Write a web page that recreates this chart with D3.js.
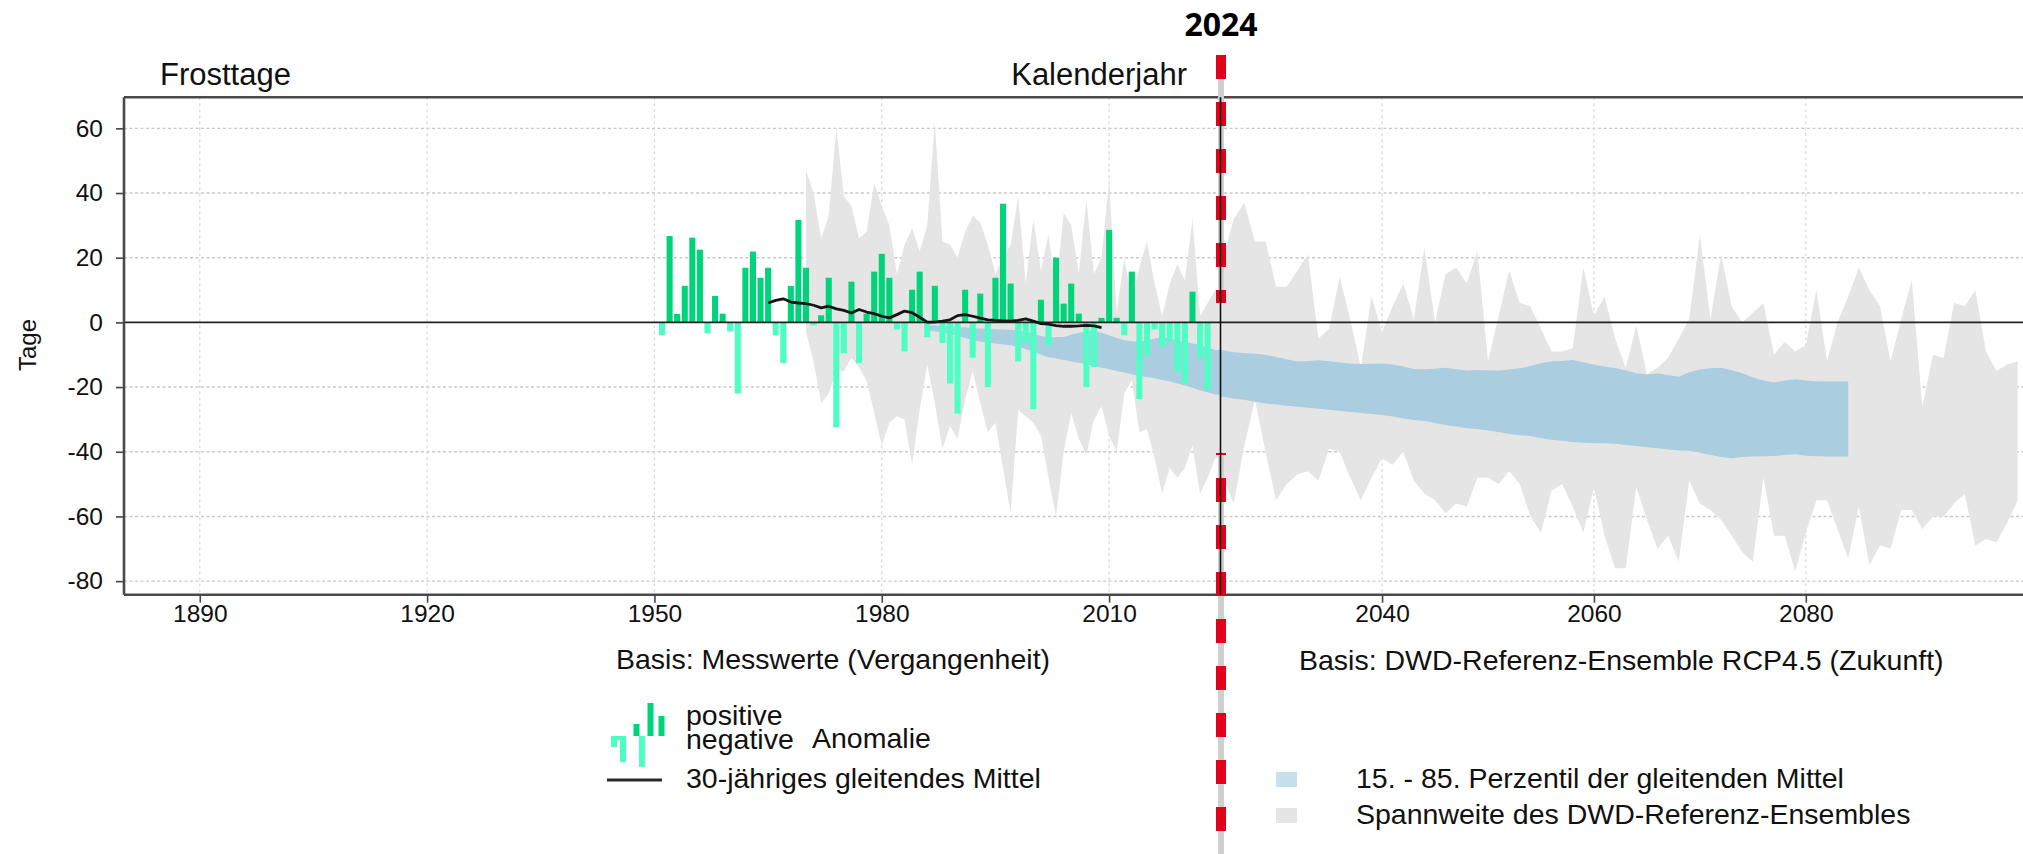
<!DOCTYPE html>
<html>
<head>
<meta charset="utf-8">
<script src="https://cdn.jsdelivr.net/npm/d3@7"></script>
<style>
  body { margin: 0; background: #fff; }
  svg { display: block; background: #fff; }
  text { font-family: "Liberation Sans", Arial, Helvetica, sans-serif; fill: #111; }
</style>
</head>
<body>
<div id="chart"></div>
<script>
// Beobachtete Anomalie der Frosttage (Tage), 1951-2023
const anomalyYears = d3.range(1951, 2024);
const anomalies = [
  -4.0, 26.7, 2.6, 11.3, 26.2, 22.5, -3.4, 8.2, 2.7, -2.8,
  -22.0, 16.9, 21.9, 13.8, 16.9, -4.0, -12.6, 11.3, 31.7, 16.9,
  -0.9, 2.2, 13.8, -32.4, -9.5, 12.6, -12.6, 2.7, 15.7, 21.2,
  13.8, -2.2, -9.0, 10.1, 15.7, -4.6, 11.3, -6.4, -18.9, -28.2,
  10.1, -10.9, 8.9, -20.0, 13.8, 36.7, 12.0, -12.1, -6.4, -26.8,
  7.0, -7.1, 20.0, 5.8, 12.0, 2.7, -20.0, -13.8, 1.4, 28.6,
  1.4, -4.0, 15.7, -23.7, -10.2, -2.2, -7.6, -5.9, -15.1, -18.9,
  9.5, -10.9, -20.8
];

// 30-jaehriges gleitendes Mittel, 1965-2009
const meanYears = d3.range(1965, 2010);
const meanValues = [
  6.0, 6.8, 7.3, 6.3, 6.0, 5.8, 5.3, 4.5, 5.0, 4.2,
  3.7, 2.9, 4.0, 3.2, 2.7, 1.9, 1.4, 2.4, 3.5, 3.0,
  1.6, 0.1, 0.1, 0.4, 0.8, 2.1, 2.4, 1.9, 1.3, 0.8,
  0.6, 0.5, 0.4, 0.6, 1.1, 0.4, -0.4, -0.5, -1.0, -1.2,
  -1.2, -1.1, -0.9, -1.1, -1.6
];

// Spannweite des Ensembles (Vergangenheit), 1970-2024
const pastRangeYears = d3.range(1970, 2025);
const pastRangeMax = [
  47, 40, 26, 33, 60, 39, 36, 26, 28, 43,
  36, 30, 15, 24, 29, 22, 30, 62, 25, 24,
  20, 28, 33, 31, 24, 15, 20, 24, 39, 12,
  32, 16, 27, 10, 34, 30, 15, 38, 15, 20,
  44, 3, 20, 7, 17, 25, 12, 2, 12, 18,
  13, 32, 2, 6, 10
];
const pastRangeMin = [
  -3, -12, -25, -22, -15, -15, -11, -14, -18, -28,
  -38, -31, -29, -30, -44, -27, -13, -25, -39, -32,
  -36, -24, -15, -25, -34, -31, -45, -59, -27, -29,
  -31, -35, -48, -60, -40, -28, -36, -41, -30, -26,
  -35, -40, -22, -18, -34, -33, -42, -53, -45, -48,
  -45, -38, -53, -48, -42
];

// 15.-85. Perzentil (Vergangenheit), 1986-2024
const pastPctYears = d3.range(1986, 2025);
const pastPctHigh = [
  -0.8, -0.9, -1.0, -1.2, -1.4, -1.5, -1.8, -1.9, -2.0, -2.1,
  -2.2, -2.3, -2.5, -3.0, -3.5, -4.2, -4.5, -4.6, -4.5, -3.8,
  -3.2, -2.8, -2.6, -3.2, -4.0, -4.8, -5.5, -5.8, -6.0, -5.6,
  -5.0, -4.6, -5.0, -5.5, -6.0, -6.5, -7.0, -7.8, -8.5
];
const pastPctLow = [
  -2.5, -2.8, -3.0, -3.6, -4.2, -4.8, -5.5, -5.9, -6.2, -6.5,
  -6.8, -7.1, -7.5, -8.2, -9.0, -10.0, -10.8, -11.2, -11.6, -12.0,
  -12.5, -13.0, -13.5, -14.0, -14.5, -15.0, -15.5, -16.0, -16.5, -16.9,
  -17.3, -17.8, -18.3, -18.9, -19.5, -20.2, -21.0, -21.6, -22.3
];

// Spannweite des DWD-Referenz-Ensembles RCP4.5, 2025-2100
const futureRangeYears = d3.range(2025, 2101);
const futureRangeMax = [
  20, 32, 37, 25, 25, 11, 11, 16, 21, -5,
  -2, 14, 1, -14, 8, -3, 5, 12, 1, 23,
  0, 15, 17, 12, 22, -12, 2, 16, 6, 5,
  -2, -9, -9, -8, 17, 2, 8, -5, -14, -1,
  -16, -14, -11, -5, 1, 27, 1, 21, 5, 0,
  3, 6, -10, -6, -9, -7, 10, -12, 0, 8,
  17, 10, 5, -12, 1, 13, -26, -10, -11, 6,
  5, 10, -9, -15, -13, -12
];
const futureRangeMin = [
  -48, -56, -38, -24, -40, -55, -50, -47, -46, -49,
  -39, -40, -48, -55, -48, -42, -44, -40, -49, -53,
  -55, -59, -56, -57, -48, -48, -50, -46, -50, -60,
  -65, -52, -50, -57, -65, -51, -66, -76, -76, -51,
  -61, -70, -66, -74, -49, -56, -58, -61, -66, -71,
  -74, -48, -66, -66, -77, -65, -55, -55, -64, -73,
  -57, -75, -69, -70, -58, -58, -64, -60, -60, -56,
  -53, -69, -67, -68, -62, -55
];

// 15.-85. Perzentil der gleitenden Mittel, 2025-2084
const futurePctYears = d3.range(2025, 2085);
const futurePctHigh = [
  -8.6, -9.2, -9.5, -9.7, -10.0, -10.7, -11.4, -12.1, -11.9, -11.7,
  -12.0, -12.4, -12.7, -12.9, -12.8, -12.7, -13.0, -13.6, -14.4, -14.5,
  -14.3, -14.0, -14.5, -14.9, -14.7, -14.8, -14.9, -14.6, -14.2, -13.5,
  -12.6, -12.0, -11.9, -11.6, -12.3, -13.0, -13.6, -14.1, -14.9, -15.7,
  -16.1, -15.8, -16.3, -16.8, -15.4, -14.6, -14.2, -14.0, -14.7, -15.7,
  -17.0, -18.0, -18.6, -18.0, -17.6, -18.0, -18.2, -18.3, -18.3, -18.3
];
const futurePctLow = [
  -23.0, -23.6, -23.9, -24.5, -25.1, -25.4, -25.8, -26.1, -26.4, -26.7,
  -27.0, -27.4, -27.7, -28.0, -28.3, -28.6, -29.1, -29.7, -30.2, -30.5,
  -31.1, -31.7, -32.2, -32.7, -33.0, -33.4, -33.9, -34.5, -34.9, -35.1,
  -35.8, -36.3, -36.6, -37.0, -37.2, -37.4, -37.4, -37.5, -37.9, -38.2,
  -38.6, -38.9, -39.3, -39.6, -39.7, -40.3, -41.0, -41.6, -42.0, -41.6,
  -41.5, -41.4, -41.3, -41.0, -40.8, -41.2, -41.4, -41.5, -41.5, -41.5
];

const pastTicks = [1890, 1920, 1950, 1980, 2010];
const futureTicks = [2040, 2060, 2080];
const yTicks = [-80, -60, -40, -20, 0, 20, 40, 60];

class FrostChart {
  constructor() {
    this.config = {
      parentElement: "#chart",
      width: 2023,
      height: 854,
      left: 124,
      split: 1220.5,
      right: 2023,
      top: 97.3,
      bottom: 594.7,
      colors: {
        pos: "#00d47a",
        neg: "#4dffc4",
        range: "#e5e5e5",
        pct: "#abcde0",
        red: "#e3001b",
      },
    };
    this.initVis();
  }

  initVis() {
    const vis = this;
    const c = vis.config;

    vis.svg = d3
      .select(c.parentElement)
      .append("svg")
      .attr("width", c.width)
      .attr("height", c.height);

    // two time axes glued together at 2024
    vis.xPast = d3.scaleLinear().domain([1880, 2024.7]).range([c.left, c.split]);
    vis.xFuture = d3.scaleLinear().domain([2024.75, 2100.5]).range([c.split, c.right]);
    vis.yScale = d3.scaleLinear().domain([-84.2, 69.6]).range([c.bottom, c.top]);

    vis.drawGrid();
    vis.drawBands();
    vis.drawBars();
    vis.drawFrame();
    vis.drawMarker();
    vis.drawTexts();
    vis.drawLegend();
  }

  drawGrid() {
    const vis = this;
    const c = vis.config;
    const g = vis.svg.append("g");

    g.selectAll(".hgrid")
      .data(yTicks.filter((d) => d !== 0))
      .join("line")
      .attr("x1", c.left)
      .attr("x2", c.right)
      .attr("y1", (d) => vis.yScale(d))
      .attr("y2", (d) => vis.yScale(d))
      .attr("stroke", "#c9c9c9")
      .attr("stroke-width", 1.4)
      .attr("stroke-dasharray", "3,2.5");

    const vx = pastTicks.map((d) => vis.xPast(d)).concat(futureTicks.map((d) => vis.xFuture(d)));
    g.selectAll(".vgrid")
      .data(vx)
      .join("line")
      .attr("x1", (d) => d)
      .attr("x2", (d) => d)
      .attr("y1", c.top)
      .attr("y2", c.bottom)
      .attr("stroke", "#d8d8d8")
      .attr("stroke-width", 1.2)
      .attr("stroke-dasharray", "3,3");
  }

  drawBands() {
    const vis = this;
    const c = vis.config;
    const y = vis.yScale;

    const pastArea = d3.area().x((d) => vis.xPast(d.year)).y0((d) => y(d.lo)).y1((d) => y(d.hi));
    const futArea = d3.area().x((d) => vis.xFuture(d.year)).y0((d) => y(d.lo)).y1((d) => y(d.hi));

    const zipData = (years, hi, lo) => years.map((yr, i) => ({ year: yr, hi: hi[i], lo: lo[i] }));

    // past series run up to the divider, future ones start at it
    const pastRange = zipData(pastRangeYears, pastRangeMax, pastRangeMin);
    pastRange.push({ ...pastRange[pastRange.length - 1], year: vis.xPast.domain()[1] });
    const pastPct = zipData(pastPctYears, pastPctHigh, pastPctLow);
    pastPct.push({ ...pastPct[pastPct.length - 1], year: vis.xPast.domain()[1] });
    const futRange = zipData(futureRangeYears, futureRangeMax, futureRangeMin);
    futRange.unshift({ ...futRange[0], year: vis.xFuture.domain()[0] });
    const futPct = zipData(futurePctYears, futurePctHigh, futurePctLow);
    futPct.unshift({ ...futPct[0], year: vis.xFuture.domain()[0] });

    vis.svg.append("path").attr("d", pastArea(pastRange)).attr("fill", c.colors.range);
    vis.svg.append("path").attr("d", futArea(futRange)).attr("fill", c.colors.range);
    vis.svg.append("path").attr("d", pastArea(pastPct)).attr("fill", c.colors.pct);
    vis.svg.append("path").attr("d", futArea(futPct)).attr("fill", c.colors.pct);
  }

  drawBars() {
    const vis = this;
    const c = vis.config;
    const y = vis.yScale;
    const data = anomalyYears.map((yr, i) => ({ year: yr, value: anomalies[i] }));

    vis.svg
      .append("g")
      .selectAll("rect")
      .data(data)
      .join("rect")
      .attr("x", (d) => vis.xPast(d.year - 0.4))
      .attr("width", (d) => vis.xPast(d.year + 0.4) - vis.xPast(d.year - 0.4))
      .attr("y", (d) => y(Math.max(0, d.value)))
      .attr("height", (d) => Math.abs(y(d.value) - y(0)))
      .attr("fill", (d) => (d.value >= 0 ? c.colors.pos : c.colors.neg));

    // zero line over the whole width
    vis.svg
      .append("line")
      .attr("x1", c.left)
      .attr("x2", c.right)
      .attr("y1", y(0))
      .attr("y2", y(0))
      .attr("stroke", "#222")
      .attr("stroke-width", 1.6);

    const line = d3
      .line()
      .x((d) => vis.xPast(d.year))
      .y((d) => y(d.value));

    vis.svg
      .append("path")
      .attr("d", line(meanYears.map((yr, i) => ({ year: yr, value: meanValues[i] }))))
      .attr("fill", "none")
      .attr("stroke", "#151515")
      .attr("stroke-width", 2.8)
      .attr("stroke-linejoin", "round");
  }

  drawFrame() {
    const vis = this;
    const c = vis.config;

    const frame = vis.svg.append("g").attr("stroke", "#4a4a4a").attr("stroke-width", 2.6);
    frame.append("line").attr("x1", c.left).attr("x2", c.right).attr("y1", c.top).attr("y2", c.top);
    frame.append("line").attr("x1", c.left).attr("x2", c.right).attr("y1", c.bottom).attr("y2", c.bottom);
    frame.append("line").attr("x1", c.left).attr("x2", c.left).attr("y1", c.top).attr("y2", c.bottom);

    const plain = (d) => String(d);
    const yAxis = d3.axisLeft(vis.yScale).tickValues(yTicks).tickFormat(plain).tickSize(8).tickPadding(13);
    const xAxisPast = d3.axisBottom(vis.xPast).tickValues(pastTicks).tickFormat(plain).tickSize(8).tickPadding(2);
    const xAxisFut = d3.axisBottom(vis.xFuture).tickValues(futureTicks).tickFormat(plain).tickSize(8).tickPadding(2);

    const styleAxis = (g) => {
      g.select(".domain").remove();
      g.selectAll(".tick line").attr("stroke", "#444").attr("stroke-width", 1.6);
      g.selectAll(".tick text")
        .attr("fill", "#111")
        .style("font-family", '"Liberation Sans", Arial, sans-serif')
        .style("font-size", "24.5px");
    };

    vis.svg.append("g").attr("transform", `translate(${c.left},0)`).call(yAxis).call(styleAxis);
    vis.svg.append("g").attr("transform", `translate(0,${c.bottom})`).call(xAxisPast).call(styleAxis);
    vis.svg.append("g").attr("transform", `translate(0,${c.bottom})`).call(xAxisFut).call(styleAxis);
  }

  drawMarker() {
    const vis = this;
    const c = vis.config;
    const x = c.split + 0.5;
    // the red dashed marker is hidden in one stretch, as in the original
    const segments = [
      { y1: 55, y2: 303 },
      { y1: 453, y2: c.height },
    ];
    const period = 47;

    segments.forEach((s) => {
      vis.svg
        .append("line")
        .attr("x1", x).attr("x2", x)
        .attr("y1", s.y1).attr("y2", s.y2)
        .attr("stroke", "#cfcfcf")
        .attr("stroke-width", 6);
      vis.svg
        .append("line")
        .attr("x1", x).attr("x2", x)
        .attr("y1", s.y1).attr("y2", s.y2)
        .attr("stroke", c.colors.red)
        .attr("stroke-width", 10)
        .attr("stroke-dasharray", "24,23")
        .attr("stroke-dashoffset", (s.y1 - 55) % period);
    });

    // divider between measurements and projection, drawn over the marker
    vis.svg
      .append("line")
      .attr("x1", c.split)
      .attr("x2", c.split)
      .attr("y1", c.top)
      .attr("y2", c.bottom)
      .attr("stroke", "#111")
      .attr("stroke-width", 1.6);

    vis.svg
      .append("text")
      .attr("x", x)
      .attr("y", 36)
      .attr("text-anchor", "middle")
      .style("font-family", '"Open Sans", sans-serif')
      .style("font-weight", 700)
      .style("font-size", "32px")
      .style("fill", "#000")
      .text("2024");
  }

  drawTexts() {
    const vis = this;
    const addText = (x, y, str, size, anchor = "start") =>
      vis.svg
        .append("text")
        .attr("x", x)
        .attr("y", y)
        .attr("text-anchor", anchor)
        .style("font-size", `${size}px`)
        .text(str);

    addText(160, 85, "Frosttage", 31);
    addText(1187, 85, "Kalenderjahr", 31, "end");
    addText(616, 669, "Basis: Messwerte (Vergangenheit)", 28.5);
    addText(1299, 670, "Basis: DWD-Referenz-Ensemble RCP4.5 (Zukunft)", 28.5);

    vis.svg
      .append("text")
      .attr("transform", "translate(36,345) rotate(-90)")
      .attr("text-anchor", "middle")
      .style("font-size", "24px")
      .text("Tage");

    vis.addText = addText;
  }

  drawLegend() {
    const vis = this;
    const c = vis.config;
    const g = vis.svg.append("g");

    // small bar icon
    const icon = [
      { x: 611, y: 736, h: 11, col: c.colors.neg },
      { x: 620, y: 736, h: 26, col: c.colors.neg },
      { x: 617, y: 736, h: 4, col: c.colors.neg },
      { x: 633.5, y: 724, h: 12, col: c.colors.pos },
      { x: 639, y: 736, h: 31, col: c.colors.neg },
      { x: 647.5, y: 703, h: 33, col: c.colors.pos },
      { x: 658.5, y: 716, h: 20, col: c.colors.pos },
    ];
    g.selectAll("rect.icon")
      .data(icon)
      .join("rect")
      .attr("x", (d) => d.x)
      .attr("y", (d) => d.y)
      .attr("width", 6)
      .attr("height", (d) => d.h)
      .attr("fill", (d) => d.col);

    g.append("line")
      .attr("x1", 607).attr("x2", 662)
      .attr("y1", 780).attr("y2", 780)
      .attr("stroke", "#2a2a2a")
      .attr("stroke-width", 3);

    vis.addText(686, 725, "positive", 28.5);
    vis.addText(686, 749, "negative", 28.5);
    vis.addText(812, 748, "Anomalie", 28.5);
    vis.addText(686, 788, "30-jähriges gleitendes Mittel", 28.5);

    g.append("rect").attr("x", 1276).attr("y", 772).attr("width", 21).attr("height", 15).attr("fill", "#c6e0ee");
    g.append("rect").attr("x", 1276).attr("y", 808).attr("width", 21).attr("height", 15).attr("fill", c.colors.range);

    vis.addText(1356, 788, "15. - 85. Perzentil der gleitenden Mittel", 28.5);
    vis.addText(1356, 824, "Spannweite des DWD-Referenz-Ensembles", 28.5);
  }
}

const frostChart = new FrostChart();
</script>
</body>
</html>
